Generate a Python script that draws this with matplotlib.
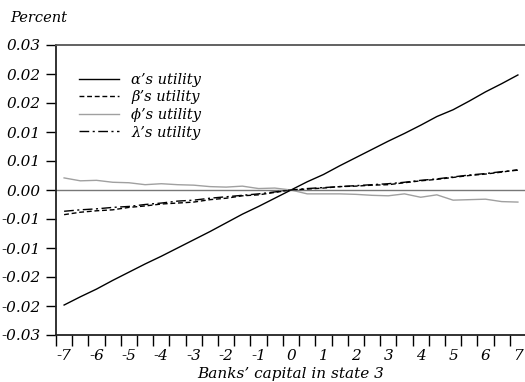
import matplotlib
matplotlib.use("Agg")
import matplotlib.pyplot as plt

# data (state-3 bank capital, -7..7 step 0.5)
capital = [-7.0, -6.5, -6.0, -5.5, -5.0, -4.5, -4.0, -3.5, -3.0, -2.5, -2.0, -1.5, -1.0, -0.5, 0.0,
           0.5, 1.0, 1.5, 2.0, 2.5, 3.0, 3.5, 4.0, 4.5, 5.0, 5.5, 6.0, 6.5, 7.0]

alpha_u = [-0.0238, -0.0221, -0.0205, -0.0187, -0.0170, -0.0153, -0.0137, -0.0120, -0.0103, -0.0086,
           -0.0068, -0.0050, -0.0034, -0.0017, 0.0000, 0.0017, 0.0032, 0.0050, 0.0067, 0.0084,
           0.0101, 0.0117, 0.0134, 0.0152, 0.0166, 0.0184, 0.0203, 0.0220, 0.0238]

beta_u = [-0.0051, -0.0046, -0.0043, -0.0041, -0.0036, -0.0033, -0.0029, -0.0027, -0.0025, -0.0020,
          -0.0017, -0.0012, -0.0010, -0.0005, 0.0000, 0.0002, 0.0004, 0.0007, 0.0008, 0.0010,
          0.0011, 0.0015, 0.0019, 0.0022, 0.0026, 0.0030, 0.0033, 0.0037, 0.0042]

phi_u = [0.0025, 0.0019, 0.0020, 0.0016, 0.0015, 0.0011, 0.0013, 0.0011, 0.0010, 0.0007,
         0.0006, 0.0008, 0.0003, 0.0004, 0.0000, -0.0008, -0.0008, -0.0008, -0.0009, -0.0011,
         -0.0012, -0.0008, -0.0015, -0.0010, -0.0021, -0.0020, -0.0019, -0.0024, -0.0025]

lambda_u = [-0.0044, -0.0041, -0.0039, -0.0036, -0.0034, -0.0030, -0.0027, -0.0023, -0.0021, -0.0017,
            -0.0014, -0.0011, -0.0008, -0.0004, 0.0000, 0.0003, 0.0005, 0.0007, 0.0009, 0.0011,
            0.0013, 0.0016, 0.0020, 0.0023, 0.0027, 0.0031, 0.0034, 0.0038, 0.0041]

xtick_labels = ["-7", "-6", "-5", "-4", "-3", "-2", "-1", "0", "1", "2", "3", "4", "5", "6", "7"]
ytick_values = [-0.03, -0.024, -0.018, -0.012, -0.006, 0.0, 0.006, 0.012, 0.018, 0.024, 0.03]
ytick_labels = ["-0.03", "-0.02", "-0.02", "-0.01", "-0.01", "0.00", "0.01", "0.01", "0.02", "0.02", "0.03"]

plt.rcParams["font.family"] = ["DejaVu Serif"]
plt.rcParams["font.style"] = "italic"
plt.rcParams["font.size"] = 10.5

fig = plt.figure(figsize=(5.25, 3.82), dpi=100)
ax = fig.add_axes([56 / 525, 47 / 382, 470 / 525, 290 / 382])

ax.axhline(0, color="#777777", linewidth=1.0, zorder=1)

ax.plot(capital, alpha_u, color="black", linewidth=1.0, label="α’s utility")
ax.plot(capital, beta_u, color="black", linewidth=1.0, dashes=(3.5, 2), label="β’s utility")
ax.plot(capital, phi_u, color="#a0a0a0", linewidth=1.0, label="ϕ’s utility")
ax.plot(capital, lambda_u, color="black", linewidth=1.0, dashes=(7, 2.5, 1.5, 2.5), label="λ’s utility")

ax.set_xlim(-7.25, 7.25)
ax.set_ylim(-0.03, 0.03)

# tick marks at category boundaries, labels at whole numbers
ax.set_xticks([int(v) for v in xtick_labels])
ax.set_xticklabels(xtick_labels)
ax.set_xticks([-7.25 + 0.5 * k for k in range(30)], minor=True)
ax.tick_params(axis="x", which="major", length=0, pad=10, labelsize=11)
ax.tick_params(axis="x", which="minor", length=8, width=1.0, direction="out")

ax.set_yticks(ytick_values)
ax.set_yticklabels(ytick_labels)
ax.tick_params(axis="y", length=7, width=1.0, direction="out", pad=4, labelsize=11)

for side in ["left", "bottom"]:
    ax.spines[side].set_color("#222222")
    ax.spines[side].set_linewidth(1.3)
ax.spines["top"].set_color("#555555")
ax.spines["top"].set_linewidth(1.3)
ax.spines["right"].set_visible(False)

ax.set_xlabel("Banks’ capital in state 3", fontsize=11, labelpad=3)
fig.text(10 / 525, 1 - 18 / 382, "Percent", fontsize=10.5, va="center", ha="left")

ax.legend(loc="upper left", bbox_to_anchor=(0.02, 0.95), frameon=False,
          handlelength=2.8, handletextpad=0.8, labelspacing=0.25, fontsize=10.5)

fig.savefig("out.png", dpi=100)
